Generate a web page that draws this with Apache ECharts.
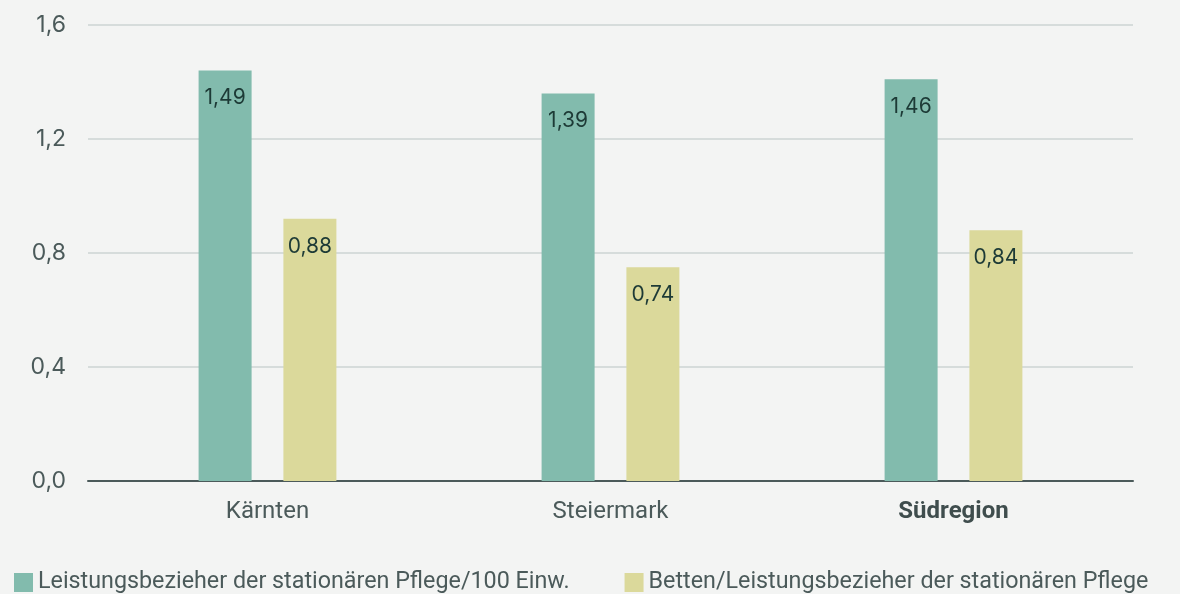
<!DOCTYPE html>
<html>
<head>
<meta charset="utf-8">
<script src="https://cdn.jsdelivr.net/npm/echarts@6/dist/echarts.min.js"></script>
<style>
  html, body { margin: 0; padding: 0; background: #f3f4f3; }
  #chart { width: 1180px; height: 594px; }
</style>
</head>
<body>
<div id="chart"></div>
<script>
const regions = ["Kärnten", "Steiermark", "Südregion"];
const seriesNames = [
  "Leistungsbezieher der stationären Pflege/100 Einw.",
  "Betten/Leistungsbezieher der stationären Pflege",
];
// bar heights as drawn in the picture
const recipientsBars = [1.44, 1.36, 1.41];
const bedsBars = [0.92, 0.75, 0.88];
// values printed on the bars
const recipientsLabels = [1.49, 1.39, 1.46];
const bedsLabels = [0.88, 0.74, 0.84];
const yTicks = [0, 0.4, 0.8, 1.2, 1.6];

const textColor = "#4b5a5a";
const fmt = (v, d) => v.toFixed(d).replace(".", ",");

const chart = echarts.init(document.getElementById("chart"), null, { renderer: "canvas" });

function barSeries(name, values, labels, color) {
  return {
    name,
    type: "bar",
    xAxisIndex: 0,
    yAxisIndex: 0,
    barWidth: 53,
    barGap: "60%",
    itemStyle: { color },
    label: {
      show: true,
      position: "insideTop",
      distance: 17,
      fontFamily: "Inter",
      fontSize: 21,
      color: "#1d3a36",
      formatter: (p) => fmt(labels[p.dataIndex], 2),
    },
    data: values,
  };
}

chart.setOption({
  backgroundColor: "#f3f4f3",
  animation: false,
  textStyle: { fontFamily: "Roboto" },
  grid: [
    { left: 96, right: 55, top: 25, bottom: 113 },
    { left: 88, right: 47, top: 25, bottom: 113 },
  ],
  xAxis: [
    {
      type: "category",
      gridIndex: 0,
      data: regions,
      axisLine: { show: false },
      axisTick: { show: false },
      axisLabel: {
        margin: 19,
        fontSize: 24,
        color: textColor,
        formatter: (v) => (v === "Südregion" ? "{b|" + v + "}" : v),
        rich: { b: { fontWeight: "bold", fontSize: 24, color: "#3f4d4d" } },
      },
    },
    {
      type: "value",
      gridIndex: 1,
      min: 0,
      max: 1,
      axisLine: { show: true, onZero: false, lineStyle: { color: "#4b5a5a", width: 2 } },
      axisTick: { show: false },
      axisLabel: { show: false },
      splitLine: { show: false },
    },
  ],
  yAxis: [
    {
      type: "value",
      gridIndex: 0,
      min: 0,
      max: 1.6,
      interval: 0.4,
      axisLabel: { show: false },
      axisLine: { show: false },
      axisTick: { show: false },
      splitLine: { show: false },
    },
    {
      type: "value",
      gridIndex: 1,
      min: yTicks[0],
      max: yTicks[yTicks.length - 1],
      interval: 0.4,
      axisLine: { show: false },
      axisTick: { show: false },
      axisLabel: {
        margin: 22,
        fontFamily: "Inter",
        fontSize: 23,
        color: textColor,
        formatter: (v) => fmt(v, 1),
      },
      splitLine: { lineStyle: { color: "#d6dcdb", width: 2 } },
    },
  ],
  legend: {
    left: 9,
    top: 566,
    itemWidth: 19,
    itemHeight: 19,
    itemGap: 55,
    icon: "rect",
    textStyle: { fontSize: 23.3, color: textColor, fontFamily: "Roboto" },
    data: seriesNames,
  },
  series: [
    barSeries(seriesNames[0], recipientsBars, recipientsLabels, "#82bbad"),
    barSeries(seriesNames[1], bedsBars, bedsLabels, "#dbd99b"),
  ],
});
</script>
</body>
</html>
